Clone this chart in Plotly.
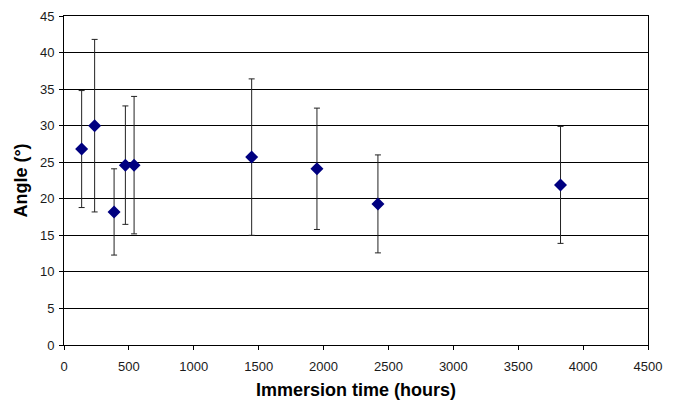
import plotly.graph_objects as go

hours = [136, 236, 386, 473, 540, 1446, 1949, 2419, 3826]
angle = [26.8, 30.0, 18.2, 24.6, 24.6, 25.7, 24.1, 19.3, 21.9]
err = [8.0, 11.8, 5.9, 8.1, 9.4, 10.7, 8.3, 6.7, 8.0]

x_ticks = [0, 500, 1000, 1500, 2000, 2500, 3000, 3500, 4000, 4500]
y_ticks = [0, 5, 10, 15, 20, 25, 30, 35, 40, 45]

fig = go.Figure()
fig.add_trace(go.Scatter(
    x=hours, y=angle, mode="markers",
    marker=dict(symbol="diamond", size=10, color="#000080"),
    error_y=dict(type="data", array=err, visible=True, color="#222222",
                 thickness=1, width=3),
    showlegend=False,
))

font = "Liberation Sans, Arial, sans-serif"
fig.update_layout(
    width=676, height=402,
    margin=dict(l=64, r=28, t=16, b=57, autoexpand=False),
    paper_bgcolor="white", plot_bgcolor="white",
    font=dict(family=font, size=13, color="#1a1a1a"),
    xaxis=dict(
        range=[0, 4500], tickvals=x_ticks, ticktext=[str(v) for v in x_ticks],
        showgrid=False, zeroline=False, automargin=False,
        showline=True, linecolor="black", linewidth=1, mirror=True,
        ticks="outside", ticklen=4, tickcolor="black", ticklabelstandoff=5,
        title=dict(text="<b>Immersion time (hours)</b>", font=dict(size=18, color="black"), standoff=10),
    ),
    yaxis=dict(
        range=[0, 45], tickvals=y_ticks, ticktext=[str(v) for v in y_ticks],
        showgrid=True, gridcolor="black", gridwidth=1, zeroline=False, automargin=False,
        showline=True, linecolor="black", linewidth=1, mirror=True,
        ticks="outside", ticklen=4, tickcolor="black", ticklabelstandoff=2,
        title=dict(text="<b>Angle (°)</b>", font=dict(size=18, color="black"), standoff=7),
    ),
)

fig.write_html("out.html", config={"displayModeBar": False},
               post_script="document.body.style.margin='0';document.body.style.padding='0';")
